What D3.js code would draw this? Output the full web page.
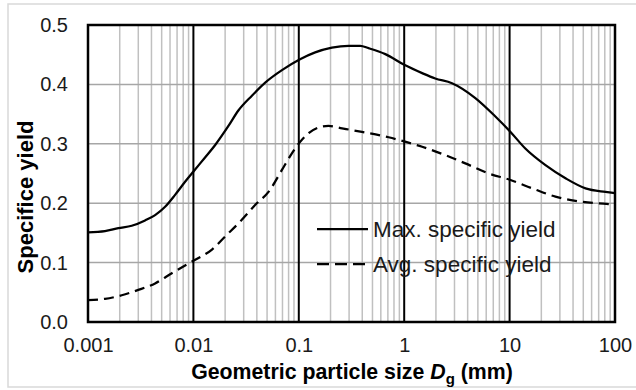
<!DOCTYPE html>
<html><head><meta charset="utf-8">
<script src="https://cdn.jsdelivr.net/npm/d3@7"></script>
<style>
html,body{margin:0;padding:0;background:#fff;}
svg text{font-family:"Liberation Sans",Arial,sans-serif;}
</style></head>
<body><svg id="c" width="636" height="390"></svg>
<script>
// Data
const maxX = [0.001,0.00145,0.00194,0.0026,0.00348,0.00433,0.00539,0.0067,0.00834,0.0102,0.0129,0.0161,0.0215,0.0267,0.0359,0.048,0.0692,0.1016,0.143,0.206,0.297,0.383,0.459,0.662,1.0,1.48,1.97,2.84,4.73,7.33,10.2,14.1,21.9,33.9,52.5,81.2,100];
const maxY = [0.151,0.153,0.158,0.162,0.171,0.180,0.194,0.214,0.236,0.255,0.277,0.298,0.330,0.356,0.381,0.403,0.424,0.442,0.454,0.462,0.465,0.465,0.461,0.451,0.433,0.419,0.410,0.402,0.377,0.346,0.320,0.292,0.264,0.242,0.225,0.219,0.217];
const avgX = [0.001,0.00145,0.00209,0.003,0.00433,0.00624,0.0102,0.015,0.02,0.0288,0.0385,0.0516,0.0692,0.086,0.1016,0.124,0.166,0.191,0.257,0.397,0.711,1.0,1.48,2.45,3.80,6.34,10.2,16.4,27.2,42.2,65.3,100];
const avgY = [0.037,0.039,0.045,0.054,0.065,0.082,0.104,0.122,0.144,0.172,0.197,0.219,0.256,0.284,0.302,0.318,0.329,0.330,0.326,0.320,0.311,0.304,0.295,0.281,0.267,0.250,0.239,0.225,0.211,0.204,0.200,0.198];
const xTicks = [0.001,0.01,0.1,1,10,100];
const xTickLabels = ["0.001","0.01","0.1","1","10","100"];
const yTicks = [0,0.1,0.2,0.3,0.4,0.5];
const seriesNames = ["Max. specific yield","Avg. specific yield"];

const svg = d3.select("#c");
const L=88, R=615, T=25, B=322;
const x = d3.scaleLog().domain([0.001,100]).range([L,R]);
const y = d3.scaleLinear().domain([0,0.5]).range([B,T]);

// outer frame
svg.append("rect").attr("x",8).attr("y",4).attr("width",640).attr("height",383)
  .attr("fill","#fff").attr("stroke","#d9d9d9").attr("stroke-width",1.5);

// minor vertical grid
const minor=[];
for(let e=-3;e<2;e++){for(let m=2;m<=9;m++){minor.push(m*Math.pow(10,e));}}
svg.append("g").selectAll("line").data(minor).join("line")
  .attr("x1",d=>x(d)).attr("x2",d=>x(d)).attr("y1",T).attr("y2",B)
  .attr("stroke","#c0c0c0").attr("stroke-width",1.5);
// horizontal grid
svg.append("g").selectAll("line").data(yTicks.slice(1,-1)).join("line")
  .attr("x1",L).attr("x2",R).attr("y1",d=>y(d)).attr("y2",d=>y(d))
  .attr("stroke","#a6a6a6").attr("stroke-width",1.5);
// decade lines
svg.append("g").selectAll("line").data(xTicks.slice(1,-1)).join("line")
  .attr("x1",d=>x(d)).attr("x2",d=>x(d)).attr("y1",T).attr("y2",B)
  .attr("stroke","#000").attr("stroke-width",2);

// plot border
svg.append("rect").attr("x",L).attr("y",T).attr("width",R-L).attr("height",B-T)
  .attr("fill","none").attr("stroke","#000").attr("stroke-width",2.5);

// axes
const ya = svg.append("g").attr("transform",`translate(${L},0)`)
  .call(d3.axisLeft(y).tickValues(yTicks).tickFormat(d3.format(".1f")).tickSize(0).tickPadding(20));
ya.select(".domain").remove();
ya.selectAll("text").attr("font-size",20).attr("fill","#1a1a1a").attr("font-family","Liberation Sans, Arial, sans-serif");

const xa = svg.append("g").attr("transform",`translate(0,${B})`)
  .call(d3.axisBottom(x).tickValues(xTicks).tickFormat((d,i)=>xTickLabels[i]).tickSize(0).tickPadding(16));
xa.select(".domain").remove();
xa.selectAll("text").attr("font-size",20).attr("fill","#1a1a1a").attr("font-family","Liberation Sans, Arial, sans-serif");

// lines
const line = d3.line().x(d=>x(d[0])).y(d=>y(d[1])).curve(d3.curveMonotoneX);
const maxData = maxX.map((v,i)=>[v,maxY[i]]);
const avgData = avgX.map((v,i)=>[v,avgY[i]]);
svg.append("path").datum(maxData).attr("d",line).attr("fill","none")
  .attr("stroke","#000").attr("stroke-width",2.25);
svg.append("path").datum(avgData).attr("d",line).attr("fill","none")
  .attr("stroke","#000").attr("stroke-width",2.25).attr("stroke-dasharray","10,6");

// legend
const lg = svg.append("g");
[0,1].forEach(i=>{
  const ly = 229 + i*35;
  lg.append("line").attr("x1",317).attr("x2",368).attr("y1",ly).attr("y2",ly)
    .attr("stroke","#000").attr("stroke-width",2.25)
    .attr("stroke-dasharray", i===1 ? "12,6" : null);
  lg.append("text").attr("x",373).attr("y",ly+8).attr("font-size",22.5).attr("fill","#1a1a1a")
    .text(seriesNames[i]);
});

// axis titles
const xt = svg.append("text").attr("x",352).attr("y",379).attr("text-anchor","middle")
  .attr("font-size",21.3).attr("font-weight","bold").attr("fill","#000");
xt.append("tspan").text("Geometric particle size ");
xt.append("tspan").attr("font-style","italic").text("D");
xt.append("tspan").attr("font-size",15).attr("dy",5).text("g");
xt.append("tspan").attr("dy",-5).text(" (mm)");

svg.append("text").attr("transform","translate(33,197) rotate(-90)").attr("text-anchor","middle")
  .attr("font-size",22).attr("font-weight","bold").attr("fill","#000").text("Specifice yield");
</script></body></html>
